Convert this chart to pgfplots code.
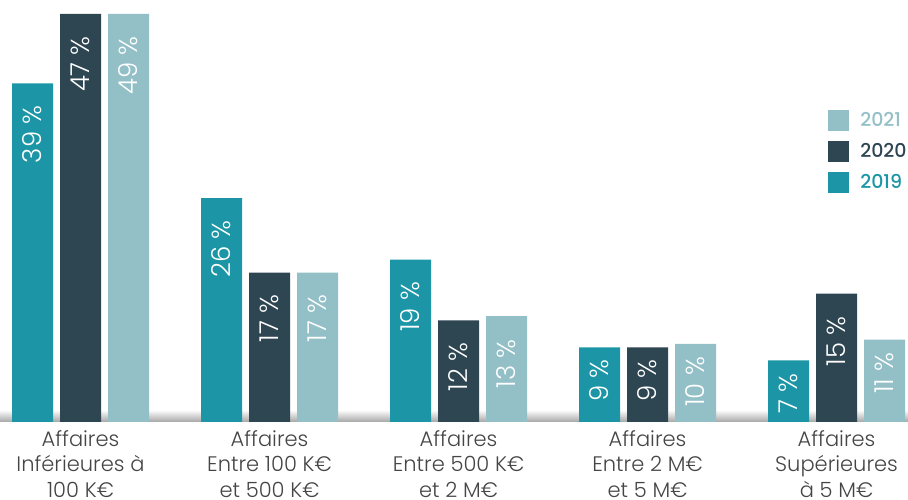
\documentclass[border=0pt]{standalone}
\usepackage{pgfplots}
\usepackage{pgfplotstable}
\pgfplotsset{compat=1.18}
\usepackage{fontspec}
\setmainfont{Poppins}
\newfontfamily\plight{Poppins Light}
\newfontfamily\pmed{Poppins Medium}
\definecolor{cA}{HTML}{1C96A6}
\definecolor{cB}{HTML}{2E4552}
\definecolor{cC}{HTML}{93BFC7}
\definecolor{txt}{HTML}{454545}
\pgfplotstableread{
x y lab off
0 39 39 22
1 25.8 26 22
2 18.7 19 22
3 8.6 9 12
4 7.1 7 13
}\dA
\pgfplotstableread{
x y lab off
0 47 47 22
1 17.2 17 22
2 11.7 12 22
3 8.6 9 12
4 14.8 15 23
}\dB
\pgfplotstableread{
x y lab off
0 49 49 22
1 17.2 17 22
2 12.2 13 23
3 9.0 10 13
4 9.5 11 13
}\dC
\begin{document}
\begin{tikzpicture}
\begin{axis}[
  name=ax,
  scale only axis,
  width=908pt, height=408pt,
  xmin=-0.426, xmax=4.378,
  ymin=0, ymax=47,
  restrict y to domain*=0:47,
  ybar=7pt, bar width=41pt,
  axis line style={draw=none},
  major tick length=0pt,
  ytick=\empty,
  xtick={0,1,2,3,4},
  xticklabels={{Affaires\\Inférieures à\\100 K€},{Affaires\\Entre 100 K€\\et 500 K€},{Affaires\\Entre 500 K€\\et 2 M€},{Affaires\\Entre 2 M€\\et 5 M€},{Affaires\\Supérieures\\à 5 M€}},
  xticklabel style={align=center, font=\plight\fontsize{21}{25.3}\selectfont, text=txt, inner sep=0pt, yshift=-8.5pt},
  point meta=explicit symbolic,
  nodes near coords={\rotatebox{90}{\pgfplotspointmeta{} \%}},
  every node near coord/.append style={font=\plight\fontsize{26}{26}\selectfont, text=white, anchor=north, inner sep=0pt},
  legend style={draw=none, fill=none, at={(rel axis cs:0.912,0.765)}, anchor=north west,
    font=\pmed\fontsize{19}{19}\selectfont, row sep=10pt, column sep=9pt, inner sep=0pt},
  legend cell align=left,
  reverse legend,
  legend image code/.code={\fill[#1] (0pt,-10.5pt) rectangle (21pt,10.5pt);},
  lbl/.style={visualization depends on={\thisrow{off} \as \laboff},
    every node near coord/.append style={yshift=-\laboff pt}},
]
\shade[top color=white, bottom color=black!35, draw=none] (axis cs:-0.426,0) rectangle (axis cs:4.378,1.4);
\addplot[fill=cA, draw=none, lbl] table[x=x, y=y, meta=lab] {\dA};
\addlegendentry{\textcolor{cA}{2019}}
\addplot[fill=cB, draw=none, lbl] table[x=x, y=y, meta=lab] {\dB};
\addlegendentry{\textcolor{cB}{2020}}
\addplot[fill=cC, draw=none, lbl] table[x=x, y=y, meta=lab] {\dC};
\addlegendentry{\textcolor{cC}{2021}}
\end{axis}
\pgfresetboundingbox
\path[use as bounding box] ([yshift=-78pt]ax.south west) rectangle ([yshift=14pt]ax.north east);
\end{tikzpicture}
\end{document}
